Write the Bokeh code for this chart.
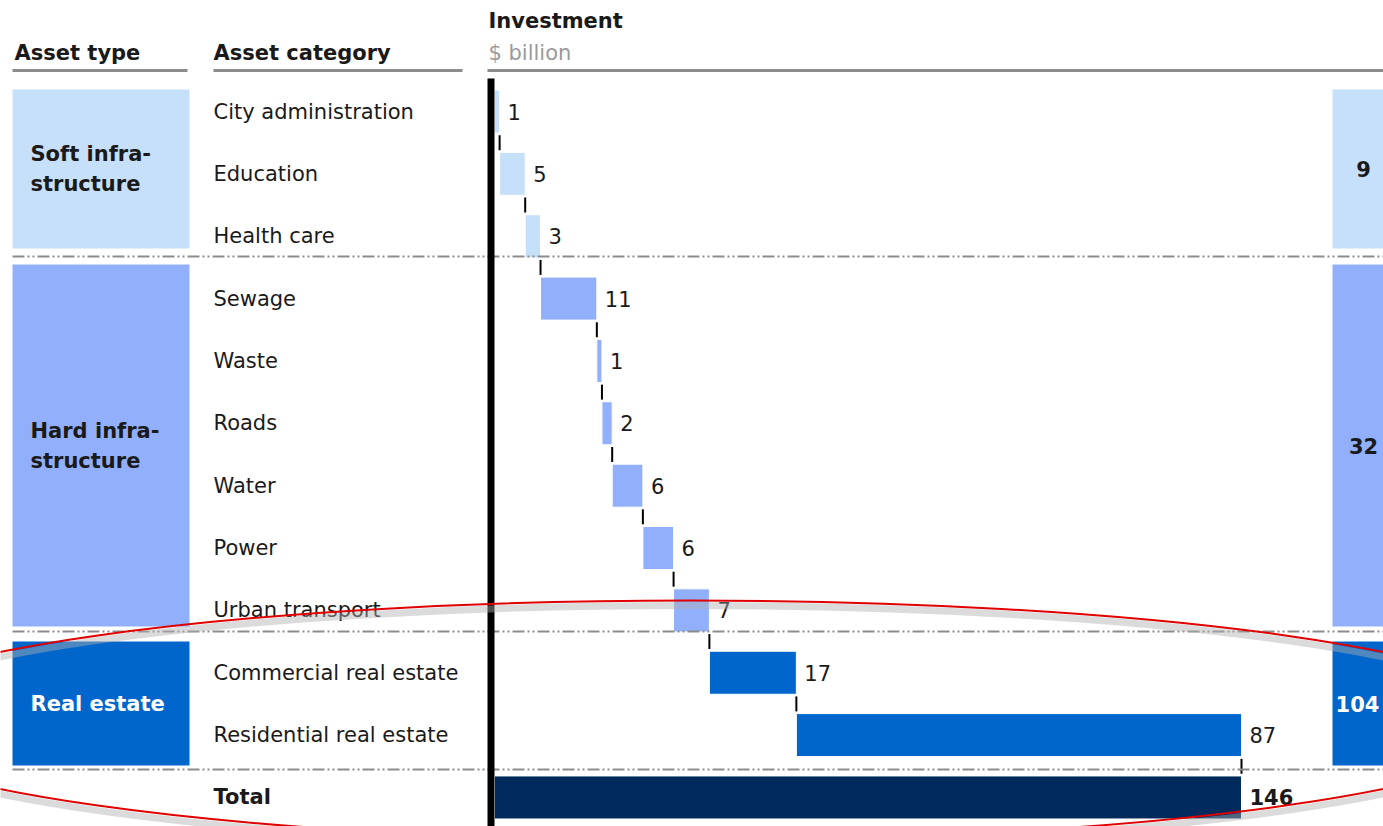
from bokeh.plotting import figure
from bokeh.models import Range1d, ColumnDataSource
from bokeh.core.properties import value
from bokeh.embed import file_html
from bokeh.resources import INLINE

# ---------------- data ----------------
categories = ["City administration", "Education", "Health care", "Sewage", "Waste",
              "Roads", "Water", "Power", "Urban transport",
              "Commercial real estate", "Residential real estate"]
values = [1, 5, 3, 11, 1, 2, 6, 6, 7, 17, 87]
asset_types = ["Soft infra-\nstructure", "Hard infra-\nstructure", "Real estate"]
type_counts = [3, 6, 2]
type_totals = [9, 32, 104]
total_label = "Total"
total_value = 146
header_type = "Asset type"
header_cat = "Asset category"
header_inv = "Investment"
header_unit = "$ billion"

# ---------------- style / layout ----------------
W, H = 1383, 826
FONT = value("DejaVu Sans")
FS = "21px"
type_colors = ["#C6E0FA", "#91AFFB", "#0066CC"]
type_text_colors = ["#1a1a1a", "#1a1a1a", "#ffffff"]
total_color = "#002A5C"
grey = "#8c8c8c"

X0 = 494.0                      # pixel of value 0
S = (1241.0 - X0) / total_value  # pixels per unit
R0 = 111.0                      # pixel of first row center
RH = 62.36                      # row height in pixels


def px2x(px):
    return (px - X0) / S


def px2y(py):
    return (py - R0) / RH


p = figure(width=W, height=H, output_backend="svg", toolbar_location=None,
           x_range=Range1d(px2x(0), px2x(W)), y_range=Range1d(px2y(H), px2y(0)),
           min_border=0, x_axis_location=None, y_axis_location=None)
p.grid.visible = False
p.outline_line_color = None
p.background_fill_color = "white"
p.border_fill_color = "white"

# ---------------- waterfall bars ----------------
row_type = []
for t, c in enumerate(type_counts):
    row_type += [t] * c
starts, ends = [], []
acc = 0
for v in values:
    starts.append(acc)
    acc += v
    ends.append(acc)
rows = list(range(len(values)))
src = ColumnDataSource(dict(y=rows, left=starts, right=ends,
                            color=[type_colors[t] for t in row_type],
                            label=[str(v) for v in values], cat=categories))
BAR_H = 0.69
p.hbar(y="y", left="left", right="right", height=BAR_H, color="color",
       line_color="white", line_width=1, source=src)
total_row = len(values)
p.hbar(y=[total_row], left=[0], right=[total_value], height=BAR_H,
       fill_color=total_color, line_color="white", line_width=1)

# connectors
cx, cy0, cy1 = [], [], []
for i in range(len(values)):
    cx.append(ends[i])
    cy0.append(i + 0.38)
    cy1.append(i + 1 - 0.38)
p.segment(x0=cx, y0=cy0, x1=cx, y1=cy1, line_color="black", line_width=2)

# value labels
p.text(x="right", y="y", text="label", source=src, x_offset=8,
       text_font=FONT, text_font_size=FS, text_baseline="middle",
       text_color="#1a1a1a")
p.text(x=[total_value], y=[total_row], text=[str(total_value)], x_offset=8,
       text_font=FONT, text_font_size=FS, text_baseline="middle",
       text_color="#1a1a1a", text_font_style="bold")

# category labels
p.text(x=px2x(213), y="y", text="cat", source=src, text_font=FONT,
       text_font_size=FS, text_baseline="middle", text_color="#1a1a1a")
p.text(x=[px2x(213)], y=[total_row], text=[total_label], text_font=FONT,
       text_font_size=FS, text_baseline="middle", text_color="#1a1a1a",
       text_font_style="bold")

# ---------------- group boxes (left and right) ----------------
box_px = [(89, 248), (264, 626), (641, 765)]
right_label_px = [1363, 1363, 1357]
for t, name in enumerate(asset_types):
    top, bot = box_px[t]
    p.quad(left=px2x(12), right=px2x(189), top=px2y(top), bottom=px2y(bot),
           color=type_colors[t], line_color=None)
    p.quad(left=px2x(1332), right=px2x(1420), top=px2y(top), bottom=px2y(bot),
           color=type_colors[t], line_color=None)
    lines = name.split("\n")
    mid = (top + bot) / 2
    n = len(lines)
    for k, ln in enumerate(lines):
        yy = mid + (k - (n - 1) / 2) * 30
        p.text(x=[px2x(30)], y=[px2y(yy)], text=[ln], text_font=FONT,
               text_font_size=FS, text_baseline="middle",
               text_color=type_text_colors[t], text_font_style="bold")
    p.text(x=[px2x(right_label_px[t])], y=[px2y(mid)], text=[str(type_totals[t])],
           text_font=FONT, text_font_size=FS, text_baseline="middle",
           text_align="center", text_color=type_text_colors[t],
           text_font_style="bold")

# ---------------- headers ----------------
p.text(x=[px2x(14)], y=[px2y(52)], text=[header_type], text_font=FONT,
       text_font_size=FS, text_baseline="middle", text_color="#1a1a1a",
       text_font_style="bold")
p.text(x=[px2x(213)], y=[px2y(52)], text=[header_cat], text_font=FONT,
       text_font_size=FS, text_baseline="middle", text_color="#1a1a1a",
       text_font_style="bold")
p.text(x=[px2x(488)], y=[px2y(20)], text=[header_inv], text_font=FONT,
       text_font_size=FS, text_baseline="middle", text_color="#1a1a1a",
       text_font_style="bold")
p.text(x=[px2x(488)], y=[px2y(52)], text=[header_unit], text_font=FONT,
       text_font_size=FS, text_baseline="middle", text_color="#9a9a9a")
p.segment(x0=[px2x(12), px2x(213), px2x(487)], y0=[px2y(70)] * 3,
          x1=[px2x(187), px2x(462), px2x(W)], y1=[px2y(70)] * 3,
          line_color=grey, line_width=3)

# separators
sep_px = [256, 631, 769]
p.segment(x0=[px2x(12)] * 3, y0=[px2y(s) for s in sep_px],
          x1=[px2x(W)] * 3, y1=[px2y(s) for s in sep_px],
          line_color=grey, line_width=2, line_dash="12 3 2 3 2 3")

# vertical axis line
p.segment(x0=[px2x(490.5)], y0=[px2y(78)], x1=[px2x(490.5)], y1=[px2y(H)],
          line_color="black", line_width=7)

# ---------------- red annotation ellipse ----------------
p.ellipse(x=[px2x(691)], y=[px2y(725)], width=[1684], height=[240],
          width_units="screen", height_units="screen", fill_color=None,
          line_color="#b0b0b0", line_alpha=0.45, line_width=7)
p.ellipse(x=[px2x(691)], y=[px2y(720)], width=[1684], height=[240],
          width_units="screen", height_units="screen", fill_color=None,
          line_color="#e00000", line_width=2)

open("out.html", "w").write(file_html(p, INLINE))
